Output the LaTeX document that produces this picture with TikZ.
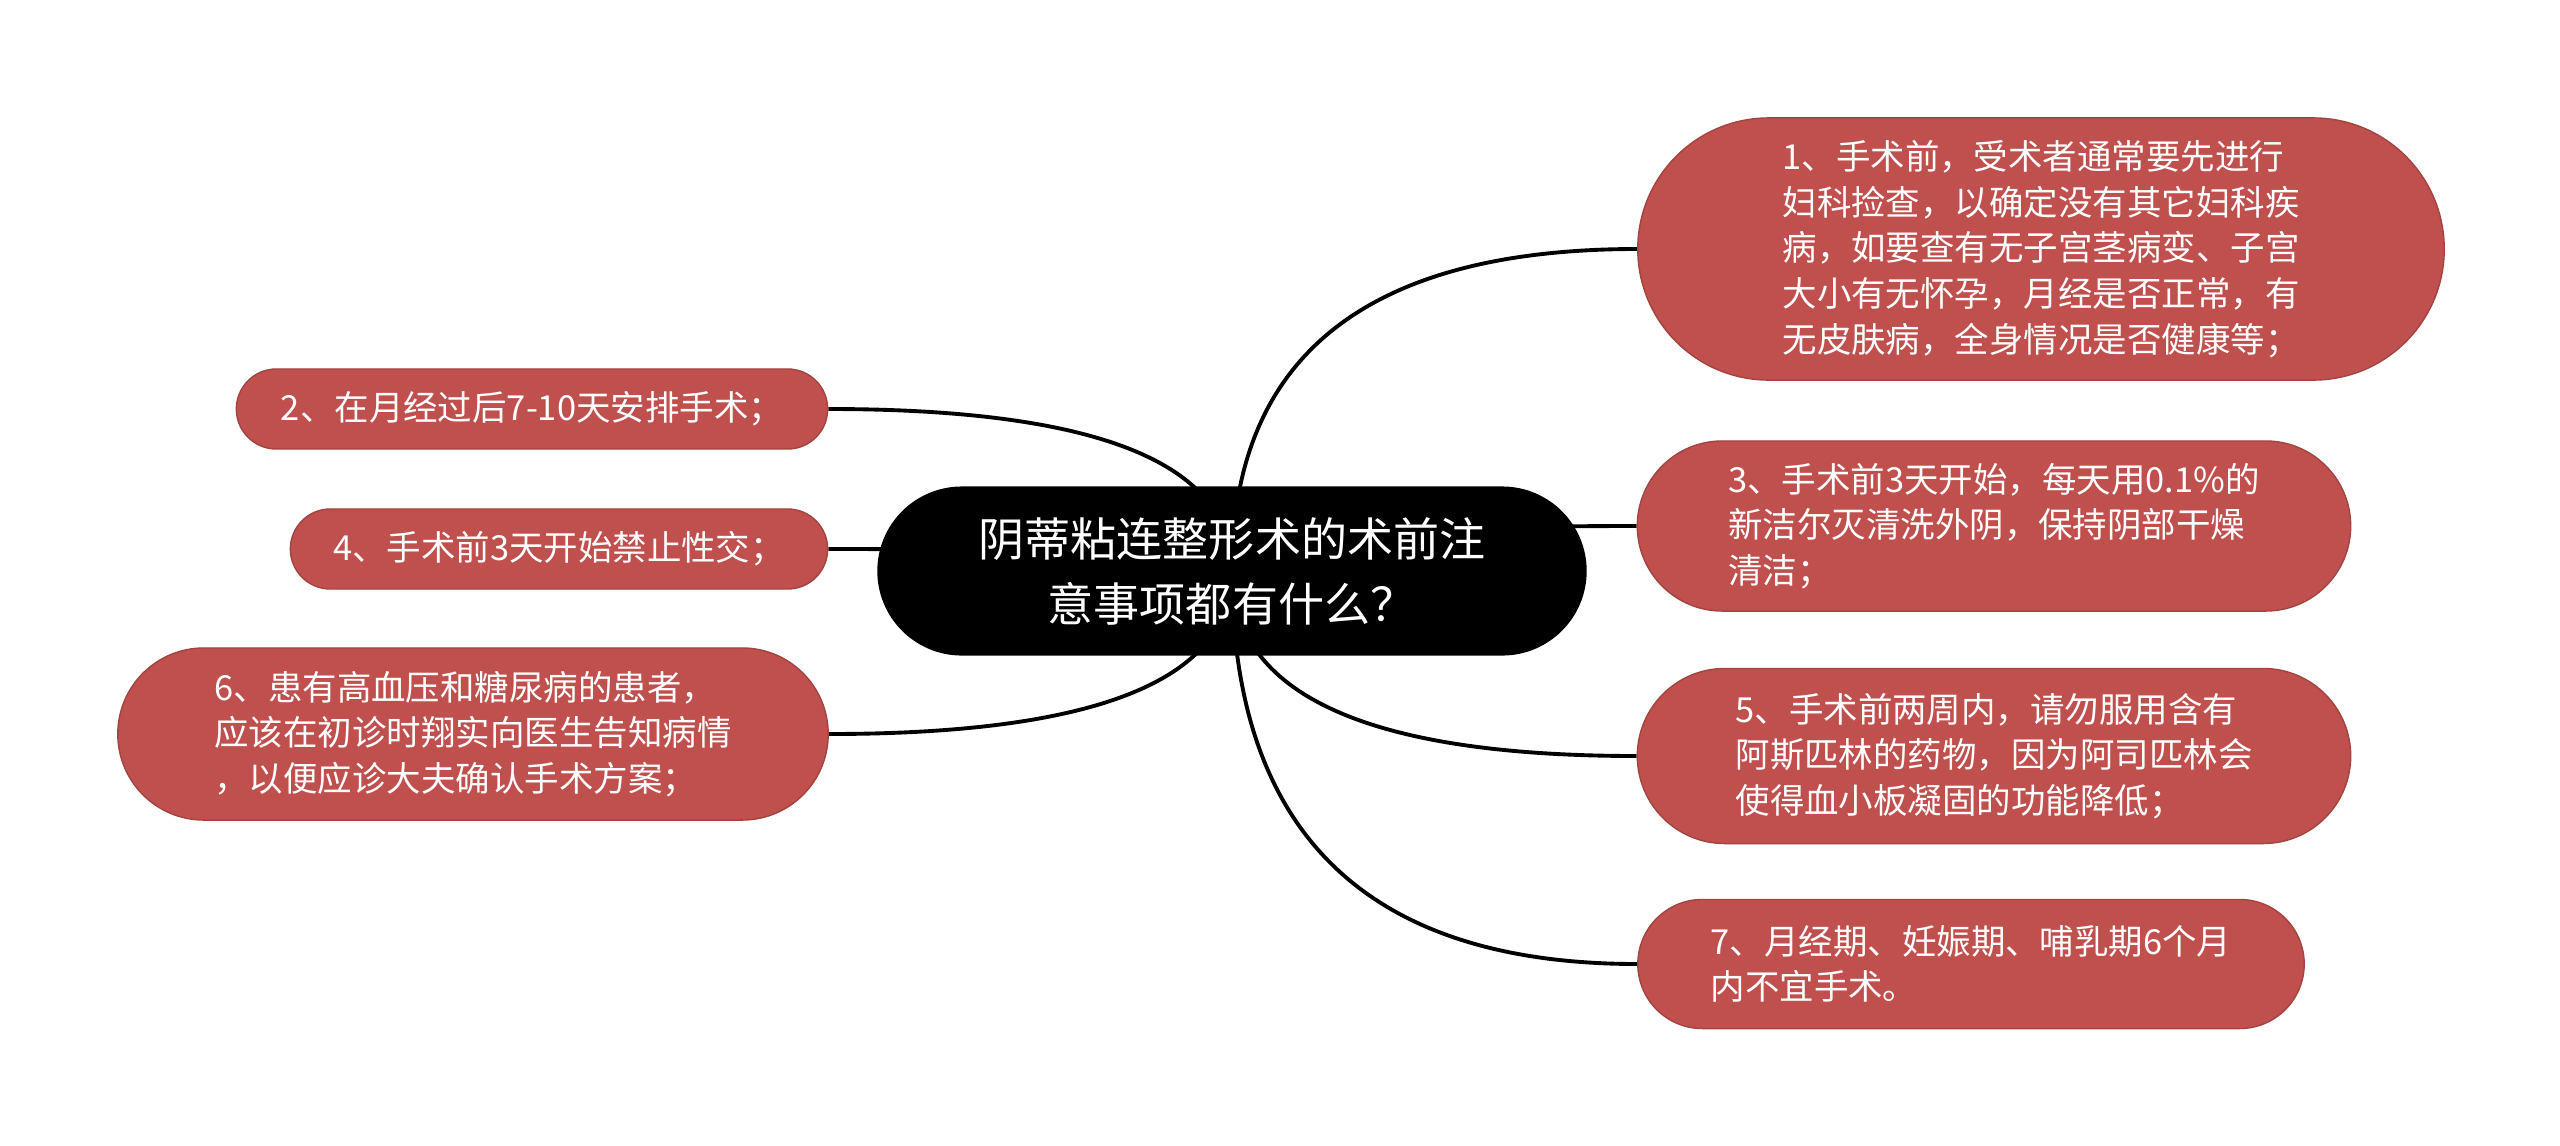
\documentclass[tikz,border=0pt]{standalone}
\usepackage{fontspec}
\setmainfont{Noto Sans CJK SC}
\usepackage{tikz}
\usetikzlibrary{calc, backgrounds}
\definecolor{leafred}{HTML}{C0504D}
\definecolor{rootblack}{HTML}{000000}

\tikzset{
  rootbox/.style={fill=rootblack, text=white, align=center, inner sep=0pt,
    minimum width=7.09cm, minimum height=1.69cm, rounded corners=0.845cm,
    font=\fontsize{13.1pt}{18.5pt}\selectfont},
  topic/.style 2 args={draw=leafred!85!black, line width=0.4pt, fill=leafred,
    text=white, align=left, inner sep=0pt, minimum width=#1, minimum height=#2,
    rounded corners=#2/2, font=\fontsize{9.8pt}{13pt}\selectfont},
  branch/.style={line width=1.1pt, black},
}

\begin{document}
\begin{tikzpicture}[x=0.01cm, y=-0.01cm]
  % canvas: 2560 x 1145 px, 1 px = 0.01 cm
  \useasboundingbox (0,0) rectangle (2560,1145);

  % central topic
  \node[rootbox] (root) at (1232,571) {阴蒂粘连整形术的术前注\\意事项都有什么？};

  % right side topics
  \node[topic={8.06cm}{2.62cm}] (n1) at (2041,249)
    {1、手术前，受术者通常要先进行\\妇科捡查，以确定没有其它妇科疾\\病，如要查有无子宫茎病变、子宫\\大小有无怀孕，月经是否正常，有\\无皮肤病，全身情况是否健康等；};
  \node[topic={7.13cm}{1.70cm}] (n3) at (1994,526)
    {3、手术前3天开始，每天用0.1\%的\\新洁尔灭清洗外阴，保持阴部干燥\\清洁；};
  \node[topic={7.13cm}{1.75cm}] (n5) at (1994,756)
    {5、手术前两周内，请勿服用含有\\阿斯匹林的药物，因为阿司匹林会\\使得血小板凝固的功能降低；};
  \node[topic={6.66cm}{1.29cm}] (n7) at (1971,964)
    {7、月经期、妊娠期、哺乳期6个月\\内不宜手术。};

  % left side topics
  \node[topic={5.91cm}{0.80cm}] (n2) at (532,409) {2、在月经过后7-10天安排手术；};
  \node[topic={5.37cm}{0.80cm}] (n4) at (559,549) {4、手术前3天开始禁止性交；};
  \node[topic={7.10cm}{1.72cm}] (n6) at (473,734)
    {6、患有高血压和糖尿病的患者，\\应该在初诊时翔实向医生告知病情\\，以便应诊大夫确认手术方案；};

  % branches (quadratic curves out of the centre, behind the boxes)
  \begin{scope}[on background layer]
    \foreach \n/\a in {n1/west, n3/west, n5/west, n7/west, n2/east, n4/east, n6/east} {
      \coordinate (k) at (root.center |- \n.\a);
      \draw[branch] (root.center) .. controls ($(root.center)!2/3!(k)$)
        and ($(\n.\a)!2/3!(k)$) .. (\n.\a);
    }
  \end{scope}
\end{tikzpicture}
\end{document}
